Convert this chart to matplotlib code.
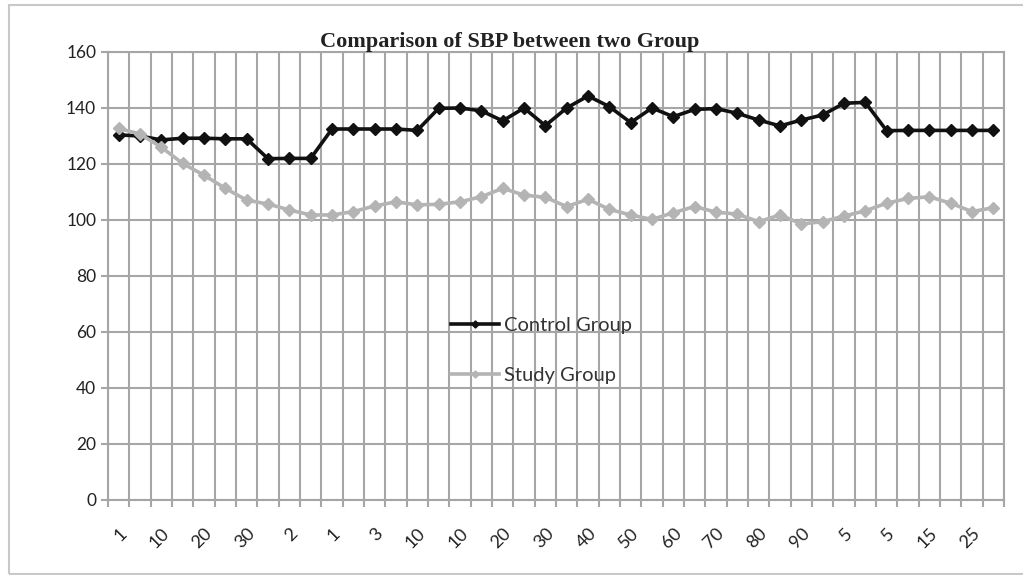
import numpy as np
import matplotlib
matplotlib.use('Agg')
import matplotlib.pyplot as plt
from matplotlib.patches import Rectangle

# x tick labels (every second category is labelled)
tick_labels = ['1', '10', '20', '30', '2', '1', '3', '10', '10', '20', '30',
               '40', '50', '60', '70', '80', '90', '5', '5', '15', '25']

control = [130.4, 130, 128.6, 129.2, 129.2, 129, 129, 121.9, 122, 122,
           132.5, 132.5, 132.5, 132.5, 132, 139.9, 140, 139, 135.4, 140,
           133.7, 140, 144.3, 140.5, 134.8, 140, 136.9, 139.5, 139.8, 138.1,
           135.7, 133.6, 135.7, 137.5, 141.7, 142, 131.9, 132, 132, 132,
           132, 132]

study = [132.7, 130.7, 126, 120.2, 116, 111.3, 107.1, 105.7, 103.6, 101.8,
         101.8, 103, 105, 106.5, 105.4, 105.6, 106.5, 108.3, 111.3, 108.9,
         108.1, 104.8, 107.4, 103.8, 101.8, 100.2, 102.6, 104.8, 102.8, 102.1,
         99.4, 101.8, 98.6, 99.4, 101.4, 103.3, 106, 107.7, 108.3, 106,
         103, 104.4]

x = np.arange(len(control))

fig = plt.figure(figsize=(10.23, 5.75), dpi=100)
ax = fig.add_axes([108 / 1023, 1 - 500 / 575, 896 / 1023, 448 / 575])

grid_col = '#a6a6a6'

ax.plot(x, control, color='#111111', lw=2.6, marker='D', ms=6, label='Control Group', zorder=3)
ax.plot(x, study, color='#b4b4b4', lw=2.6, marker='D', ms=6, label='Study Group', zorder=3)

ax.set_xlim(-0.5, len(x) - 0.5)
ax.set_ylim(0, 160)
ax.set_yticks(np.arange(0, 161, 20))

ax.set_xticks(x[::2])
ax.set_xticklabels(tick_labels, rotation=45, ha='right', rotation_mode='anchor',
                   fontsize=13, family='Lato', color='#222222')
ax.set_xticks(np.arange(-0.5, len(x), 1), minor=True)
ax.tick_params(axis='x', which='major', length=0, pad=18)
ax.tick_params(axis='x', which='minor', length=5, color=grid_col, width=1.5)
ax.tick_params(axis='y', length=5, color=grid_col, width=1.5, labelsize=12.5,
               labelcolor='#222222')
for lab in ax.get_yticklabels():
    lab.set_family('Lato')

ax.grid(which='minor', axis='x', color=grid_col, lw=1.5)
ax.grid(which='major', axis='y', color=grid_col, lw=1.5)
ax.set_axisbelow(True)
for s in ax.spines.values():
    s.set_color(grid_col)
    s.set_linewidth(1.5)

fig.text(510 / 1023, 1 - 42 / 575, 'Comparison of SBP between two Group', ha='center', va='center',
         family='Liberation Serif', fontweight='bold', fontsize=16, color='#222222')

leg = ax.legend(loc='upper left', bbox_to_anchor=(443 / 1023, 1 - 309 / 575),
                bbox_transform=fig.transFigure, frameon=False, handlelength=2.4,
                handletextpad=0.25, labelspacing=1.65, borderaxespad=0,
                prop={'family': 'Lato', 'size': 14.5}, markerscale=0.6)
for t in leg.get_texts():
    t.set_color('#333333')

# outer chart border
fig.patches.append(Rectangle((9 / 1023, 1 / 575), 1.1, 569 / 575, transform=fig.transFigure,
                             fill=False, edgecolor='#c8c8c8', lw=1.5))

fig.savefig('out.png', dpi=100)
